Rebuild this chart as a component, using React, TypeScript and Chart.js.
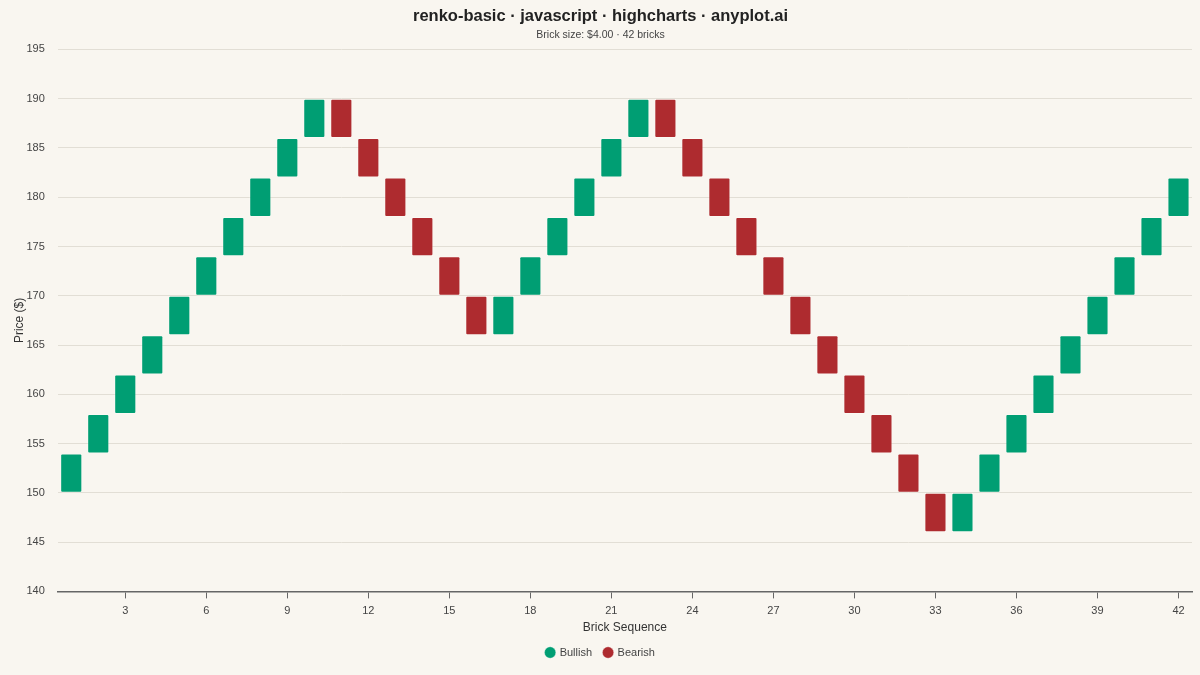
import { useEffect, useRef } from "react"
import { Chart, registerables } from "chart.js"

Chart.register(...registerables)

const BRICK_SIZE = 4
const brickLows = [
  150, 154, 158, 162, 166, 170, 174, 178, 182, 186,
  186, 182, 178, 174, 170, 166,
  166, 170, 174, 178, 182, 186,
  186, 182, 178, 174, 170, 166, 162, 158, 154, 150, 146,
  146, 150, 154, 158, 162, 166, 170, 174, 178,
]
const brickDirs = [
  "up", "up", "up", "up", "up", "up", "up", "up", "up", "up",
  "down", "down", "down", "down", "down", "down",
  "up", "up", "up", "up", "up", "up",
  "down", "down", "down", "down", "down", "down", "down", "down", "down", "down", "down",
  "up", "up", "up", "up", "up", "up", "up", "up", "up",
]
const xTickValues = [3, 6, 9, 12, 15, 18, 21, 24, 27, 30, 33, 36, 39, 42]

const BG = "#f9f6f0"
const GREEN = "#009e73"
const RED = "#ae2b2f"
const FONT = "'Liberation Sans', Arial, sans-serif"

export default function App() {
  const chartRef = useRef<HTMLCanvasElement>(null)
  const chartInstance = useRef<Chart | null>(null)

  useEffect(() => {
    if (!chartRef.current) return
    if (chartInstance.current) chartInstance.current.destroy()
    const ctx = chartRef.current.getContext("2d")
    if (!ctx) return

    document.body.style.margin = "0"

    // split bricks by direction
    const bricks = brickLows.map((low, i) => ({ x: i + 1, y: [low, low + BRICK_SIZE], dir: brickDirs[i] }))
    const bullish = bricks.filter((b) => b.dir === "up").map((b) => ({ x: b.x, y: b.y }))
    const bearish = bricks.filter((b) => b.dir === "down").map((b) => ({ x: b.x, y: b.y }))

    const barStyle = {
      borderColor: "rgba(255,255,255,0.3)",
      borderWidth: 1,
      borderSkipped: false,
      borderRadius: 2,
      grouped: false,
      barPercentage: 0.82,
      categoryPercentage: 1,
    }

    chartInstance.current = new Chart(ctx, {
      type: "bar",
      data: {
        datasets: [
          { label: "Bullish", data: bullish as any, backgroundColor: GREEN, ...barStyle },
          { label: "Bearish", data: bearish as any, backgroundColor: RED, ...barStyle },
        ],
      },
      options: {
        animation: false,
        responsive: true,
        maintainAspectRatio: false,
        layout: { padding: { top: 6, right: 8, bottom: 7, left: 9 } },
        scales: {
          x: {
            type: "linear",
            min: 0.5,
            max: 42.5,
            offset: false,
            afterBuildTicks: (scale) => {
              scale.ticks = xTickValues.map((v) => ({ value: v }))
            },
            grid: { offset: false, drawOnChartArea: false, drawTicks: true, tickLength: 7, color: "#666" },
            border: { display: true, color: "#666", width: 1.5 },
            ticks: { color: "#444", font: { family: FONT, size: 11 }, padding: 6, autoSkip: false, maxRotation: 0 },
            title: { display: true, text: "Brick Sequence", color: "#333", font: { family: FONT, size: 12 }, padding: { top: -3, bottom: 0 } },
          },
          y: {
            min: 140,
            max: 195,
            ticks: { stepSize: 5, color: "#444", font: { family: FONT, size: 11 }, padding: 13 },
            grid: { color: "#e2ded5", lineWidth: 1, drawTicks: false },
            border: { display: false },
            title: { display: true, text: "Price ($)", color: "#333", font: { family: FONT, size: 12 }, padding: { top: 3, bottom: -13 } },
          },
        },
        plugins: {
          title: {
            display: true,
            text: "renko-basic · javascript · highcharts · anyplot.ai",
            color: "#222",
            font: { family: FONT, size: 16.5, weight: "bold" },
            padding: { top: 1, bottom: 2 },
          },
          subtitle: {
            display: true,
            text: "Brick size: $4.00 · 42 bricks",
            color: "#444",
            font: { family: FONT, size: 10.5 },
            padding: { bottom: 8 },
          },
          legend: {
            position: "bottom",
            labels: {
              usePointStyle: true,
              pointStyle: "circle",
              boxWidth: 8,
              boxHeight: 8,
              color: "#444",
              font: { family: FONT, size: 11 },
              padding: 12,
            },
          },
          tooltip: { enabled: false },
        },
      },
      plugins: [
        {
          id: "bg",
          beforeDraw: (chart) => {
            const c = chart.ctx
            c.save()
            c.fillStyle = BG
            c.fillRect(0, 0, chart.width, chart.height)
            c.restore()
          },
        },
      ],
    })

    return () => {
      if (chartInstance.current) chartInstance.current.destroy()
    }
  }, [])

  return (
    <div style={{ position: "fixed", inset: 0, width: 1200, height: 675, background: BG }}>
      <canvas ref={chartRef} />
    </div>
  )
}
